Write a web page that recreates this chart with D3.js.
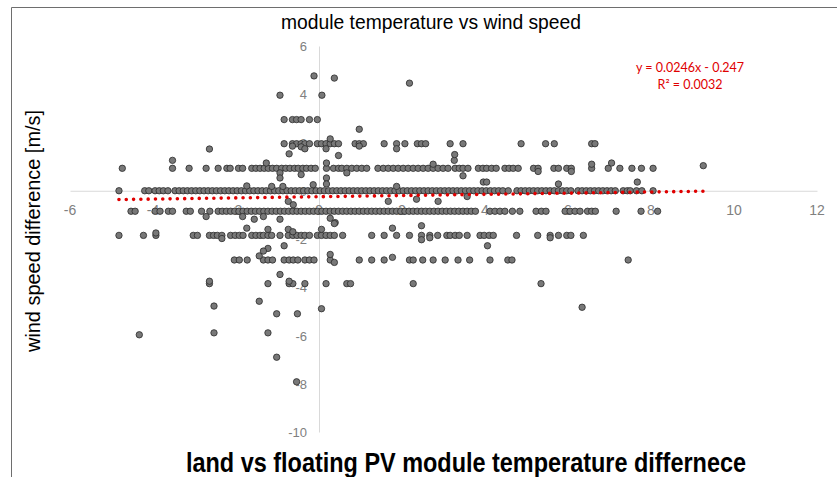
<!DOCTYPE html>
<html><head><meta charset="utf-8">
<script src="https://cdn.jsdelivr.net/npm/d3@7"></script>
<style>body{margin:0;background:#fff}svg{display:block}</style>
</head><body>
<svg id="c" width="837" height="477"></svg>
<script>
// ---- data ----
const xTicks = [-6,-4,-2,0,2,4,6,8,10,12];
const yTicks = [6,4,2,0,-2,-4,-6,-8,-10];
const title = "module temperature vs wind speed";
const xTitle = "land vs floating PV module temperature differnece";
const yTitle = "wind speed difference [m/s]";
const trend = {slope:0.0246, intercept:-0.247};
const trendLabel = ["y = 0.0246x - 0.247", "R\u00b2 = 0.0032"];

// rows of points sharing (roughly) the same y level
const rowLevels = [2.95, 1.95, 0.93, 0, -0.85, -1.85, -2.87, -3.85];
const rowP3 = [-0.84,-0.64,-0.54,-0.43,-0.23,-0.04];
const rowP2 = [-0.84,-0.64,-0.54,-0.43,-0.34,-0.23,-0.04,0.06,0.17,0.27,0.37,0.47,0.87,0.97,1.07,1.57,1.87,2.07,2.37,2.47,2.57,3.16,3.47,4.87,5.46,5.67,6.57,6.65];
const rowP1 = [-4.74,-3.53,-3.13,-2.72,-2.43,-2.22,-2.14,-1.94,-1.84,-1.62,-1.52,-1.42,-1.32,-1.22,-1.12,-1.02,-0.9,-0.8,-0.7,-0.59,-0.5,-0.39,-0.3,-0.19,-0.09,0.18,0.35,0.47,0.55,0.67,0.79,0.91,1.03,1.15,1.42,1.55,1.67,1.79,1.91,2.03,2.15,2.27,2.39,2.51,2.63,2.75,2.87,2.99,3.11,3.28,3.38,3.47,3.59,3.84,3.95,4.04,4.16,4.27,4.48,4.58,4.68,4.8,5.17,5.28,5.66,5.77,5.97,6.08,6.57,6.97,7.25,7.54,7.77,8.05];
const row0 = [-4.82,-4.2,-4.1,-3.95,-3.85,-3.75,-3.64,-3.47,-3.37,-3.27,-3.17,-3.07,-2.97,-2.87,-2.77,-2.67,-2.57,-2.47,-2.37,-2.27,-2.17,-2.07,-1.97,-1.87,-1.77,-1.67,-1.57,-1.47,-1.37,-1.27,-1.17,-1.07,-0.97,-0.87,-0.77,-0.67,-0.57,-0.47,-0.37,-0.27,-0.17,-0.07,0.03,0.13,0.23,0.33,0.43,0.53,0.63,0.73,0.83,0.93,1.03,1.13,1.23,1.33,1.43,1.53,1.63,1.73,1.83,1.93,2.03,2.13,2.23,2.33,2.43,2.53,2.63,2.73,2.83,2.93,3.03,3.13,3.23,3.33,3.43,3.53,3.63,3.73,3.83,3.93,4.03,4.13,4.23,4.33,4.43,4.56,4.77,4.87,4.97,5.07,5.17,5.27,5.37,5.47,5.57,5.67,5.77,5.87,5.97,6.07,6.24,6.34,6.44,6.54,6.64,6.74,6.84,6.94,7.04,7.14,7.33,7.43,7.5,7.65,7.78,8.05];
const rowM1 = [-4.53,-4.43,-3.95,-3.83,-3.63,-3.53,-3.2,-3.1,-2.83,-2.63,-2.43,-2.33,-2.23,-2.13,-2.03,-1.93,-1.83,-1.73,-1.63,-1.53,-1.43,-1.33,-1.23,-1.13,-1.03,-0.93,-0.83,-0.73,-0.63,-0.53,-0.43,-0.33,-0.23,-0.13,-0.03,0.07,0.17,0.27,0.37,0.47,0.57,0.67,0.77,0.87,0.97,1.07,1.17,1.27,1.37,1.47,1.57,1.67,1.77,1.87,1.97,2.07,2.17,2.27,2.37,2.47,2.57,2.67,2.77,2.87,2.97,3.07,3.17,3.27,3.37,3.47,3.57,3.67,3.77,4.12,4.24,4.36,4.48,4.66,4.84,5.23,5.36,5.47,5.93,6.05,6.17,6.29,6.47,6.57,6.66,7.16,7.76,8.16];
const rowM2 = [-4.82,-4.23,-3.93,-3.03,-2.93,-2.64,-2.54,-2.45,-2.34,-2.13,-2.02,-1.92,-1.83,-1.62,-1.52,-1.42,-1.34,-1.23,-1.14,-0.94,-0.74,-0.63,-0.53,-0.43,-0.34,-0.23,-0.04,0.06,0.17,0.27,0.37,0.57,1.27,1.57,1.87,2.18,2.47,2.67,2.86,3.08,3.16,3.28,3.38,3.57,3.88,3.98,4.1,4.2,4.76,5.27,5.57,5.77,5.97,6.07,6.37];
const rowM3 = [-2.04,-1.92,-1.73,-1.34,-1.23,-1.12,-0.84,-0.72,-0.62,-0.51,-0.34,-0.23,-0.12,0.27,0.97,1.27,1.57,2.18,2.27,2.5,2.75,3.04,3.35,3.63,4.12,4.55,4.65,7.45];
const rowM4 = [-2.64,-1.23,-0.72,-0.63,-0.34,0.17,0.67,0.76,2.27,5.35];
// points off the main rows [x, y]
const scattered = [
  [-0.12,4.76],[0.37,4.67],[2.18,4.46],[-0.94,3.96],[0.07,3.96],[0.97,2.55],
  [-0.64,1.85],[-0.43,1.82],[-0.34,1.74],[0.17,1.74],[0.27,2.15],[0.97,1.85],[1.87,1.74],[-0.72,1.53],[0.47,1.46],
  [-3.53,1.26],[-2.64,1.73],[-1.27,1.15],[-0.94,0.74],[-0.94,0.53],[-0.43,0.67],[0.18,1.15],[0.18,0.53],[0.67,0.74],
  [3.26,1.26],[3.47,0.62],[2.75,1.1],[3.27,1.5],[6.57,1.1],[7.05,1.15],[9.26,1.04],[5.28,0.8],[6.08,0.8],
  [-1.74,0.2],[-1.14,0.18],[-0.14,0.25],[-0.87,0.18],[0.18,0.28],[1.87,0.18],[3.96,0.36],[4.04,0.36],[5.77,0.28],[7.67,0.36],
  [2.35,-0.35],[2.87,-0.44],[3.57,-0.24],[-0.74,-0.44],[-0.62,-0.58],[1.67,-0.44],
  [-2.72,-1.07],[-1.84,-1.07],[-1.56,-1.18],[-1.34,-1.07],[-0.94,-1.18],[0.27,-1.14],[0.39,-1.32],
  [-3.93,-1.75],[-1.74,-1.55],[-1.23,-1.6],[-0.74,-1.6],[-0.63,-1.7],[0.06,-1.6],[0.37,-1.36],[1.77,-1.55],[2.47,-1.45],[2.47,-2.03],[2.67,-1.95],[5.57,-1.95],[-2.34,-1.98],
  [4.06,-2.28],[-1.23,-2.39],[-0.84,-2.28],
  [-1.44,-2.7],[-1.34,-2.5],[0.27,-2.64],[0.37,-2.97],[1.77,-2.76],
  [-2.64,-3.75],[-0.94,-3.47],[-0.72,-3.75],
  [-4.33,-5.97],[-2.53,-4.78],[-2.53,-5.89],[-1.44,-4.58],[-1.23,-5.89],[-1.02,-5.1],[-1.02,-6.9],[-0.52,-5.1],[-0.54,-7.92],[0.06,-4.89],[6.34,-4.83]
];

// ---- build ----
const rows = [rowP3,rowP2,rowP1,row0,rowM1,rowM2,rowM3,rowM4];
const pts = [];
rows.forEach((r,i)=> r.forEach(x=>pts.push([x,rowLevels[i]])));
scattered.forEach(p=>pts.push(p));

const svg = d3.select("#c");
const x = d3.scaleLinear().domain([-6,12]).range([70,817]);
const y = d3.scaleLinear().domain([-10,6]).range([432,46]);

svg.append("rect").attr("width",837).attr("height",477).attr("fill","#fff");
svg.append("path").attr("d","M11.5,477V7.5H837").attr("fill","none").attr("stroke","#6e6e6e").attr("stroke-width",1);

const tickFont = "'Liberation Sans Narrow','Arial Narrow','Liberation Sans',sans-serif";

// axes (lines via d3 axis, labels positioned like Excel)
const gx = svg.append("g").attr("transform",`translate(0,${y(0)})`)
  .call(d3.axisBottom(x).tickValues(xTicks).tickSize(0).tickFormat(""));
gx.select(".domain").attr("stroke","#d9d9d9");
const gy = svg.append("g").attr("transform",`translate(${x(0)},0)`)
  .call(d3.axisLeft(y).tickValues(yTicks).tickSize(0).tickFormat(""));
gy.select(".domain").attr("stroke","#d9d9d9");

svg.append("g").selectAll("text").data(xTicks).join("text")
  .attr("x",d=>x(d)).attr("y",y(0)+24).attr("text-anchor","middle")
  .attr("font-family",tickFont).attr("font-size",14).attr("fill","#808080").text(d=>d);
svg.append("g").selectAll("text").data(yTicks).join("text")
  .attr("x",x(0)-12).attr("y",d=>y(d)+5).attr("text-anchor","end")
  .attr("font-family",tickFont).attr("font-size",13).attr("fill","#808080").text(d=>d);

// points
svg.append("g").selectAll("circle").data(pts).join("circle")
  .attr("cx",d=>x(d[0])).attr("cy",d=>y(d[1])).attr("r",3.2)
  .attr("fill","#787878").attr("stroke","#2a2a2a").attr("stroke-width",0.8);

// trendline
const xmin = d3.min(pts,d=>d[0]), xmax = d3.max(pts,d=>d[0]);
svg.append("line")
  .attr("x1",x(xmin)).attr("y1",y(trend.slope*xmin+trend.intercept))
  .attr("x2",x(xmax)).attr("y2",y(trend.slope*xmax+trend.intercept))
  .attr("stroke","#e00000").attr("stroke-width",3.6).attr("stroke-linecap","round")
  .attr("stroke-dasharray","0,7.3");

svg.append("g").selectAll("text").data(trendLabel).join("text")
  .attr("x",690).attr("y",(d,i)=>72+i*17).attr("text-anchor","middle")
  .attr("font-family","Lato,'Open Sans',sans-serif").attr("font-size",12.5).attr("fill","#e00000").text(d=>d);

// titles
svg.append("text").attr("x",431).attr("y",29).attr("text-anchor","middle")
  .attr("font-family",tickFont).attr("font-size",20).attr("fill","#000")
  .attr("textLength",300).attr("lengthAdjust","spacingAndGlyphs").text(title);
svg.append("text").attr("x",466).attr("y",472).attr("text-anchor","middle")
  .attr("font-family",tickFont).attr("font-weight","bold").attr("font-size",27).attr("fill","#000")
  .attr("textLength",560).attr("lengthAdjust","spacingAndGlyphs").text(xTitle);
svg.append("text").attr("transform","translate(40,231) rotate(-90)").attr("text-anchor","middle")
  .attr("font-family","'Liberation Sans',Arial,sans-serif").attr("font-size",19.5).attr("fill","#000")
  .attr("textLength",242).attr("lengthAdjust","spacingAndGlyphs").text(yTitle);
</script>
</body></html>
